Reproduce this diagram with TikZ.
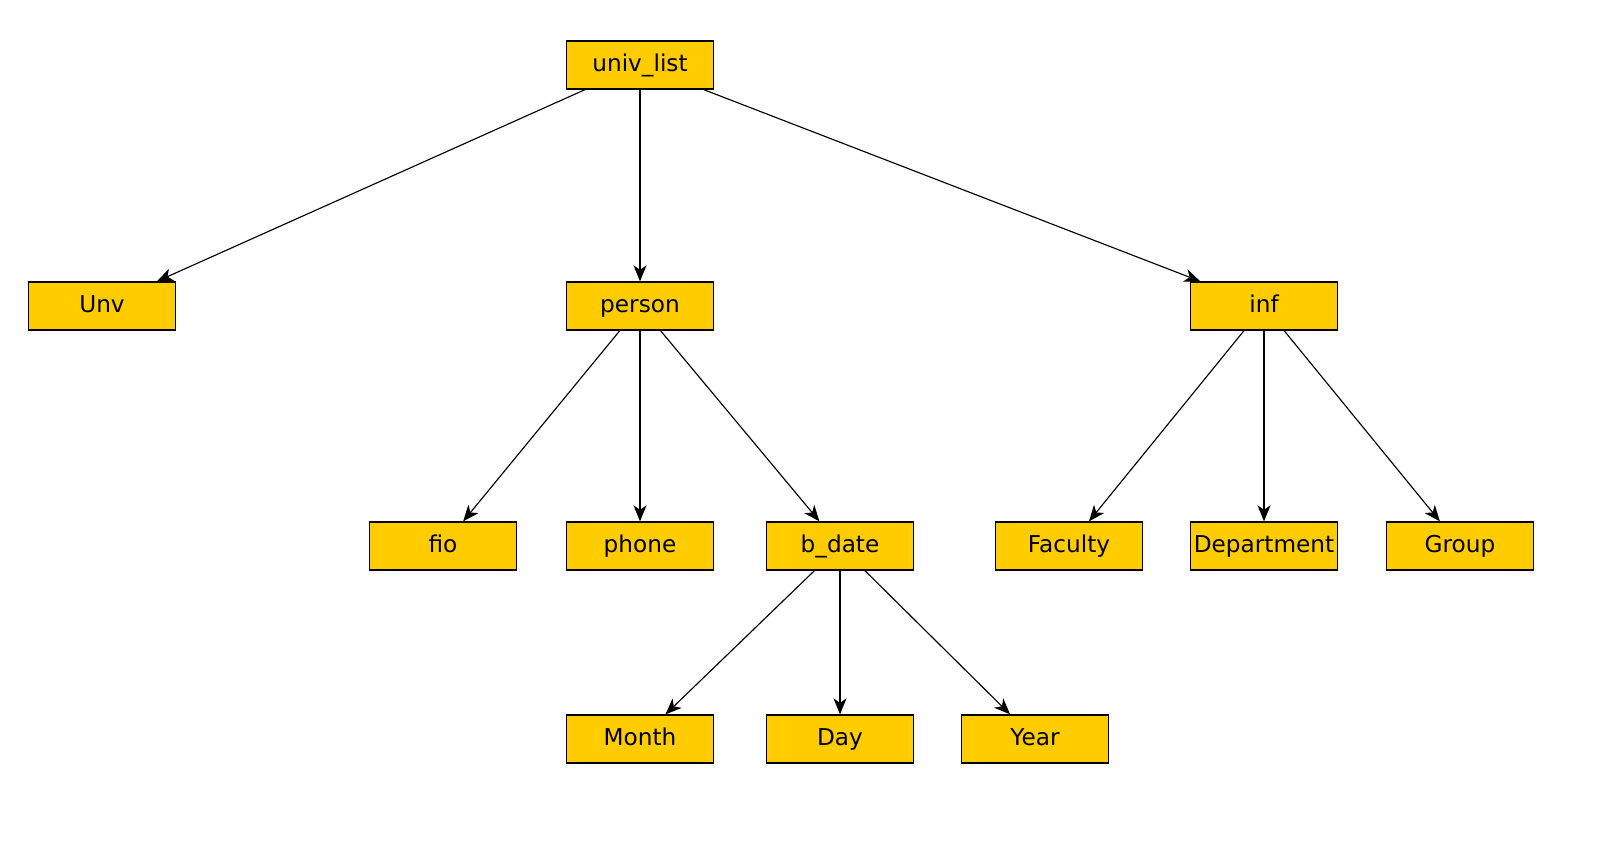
\documentclass[tikz,border=0pt]{standalone}
\usepackage{fontspec}
\setmainfont{DejaVu Sans}
\usepackage{tikz}
\usetikzlibrary{arrows.meta,positioning}
\definecolor{boxyellow}{HTML}{FFCC00}
\tikzset{box/.style={draw, fill=boxyellow, line width=0.75pt, minimum width=2.94cm, minimum height=0.96cm, inner sep=0pt, text height=9.8pt, text depth=2.8pt, font=\fontsize{13.2}{15}\selectfont},
  link/.style={-{Stealth[length=0.32cm,width=0.26cm,inset=0.09cm]}, line width=0.65pt}}

\begin{document}
\begin{tikzpicture}
    \useasboundingbox (0,0) rectangle (32.32,-16.88);
    \node[box] at (12.8,-1.3) (univ) {univ\_list};
    \node[box] at (2.04,-6.12) (unv) {Unv};
    \node[box] at (12.8,-6.12) (person) {person};
    \node[box] at (25.28,-6.12) (inf) {inf};

    \node[box] at (8.86,-10.92) (fio) {fio};
    \node[box] at (12.8,-10.92) (phone) {phone};
    \node[box] at (16.8,-10.92) (bdate) {b\_date};
    \node[box] at (21.38,-10.92) (faculty) {Faculty};
    \node[box] at (25.28,-10.92) (dept) {Department};
    \node[box] at (29.2,-10.92) (group) {Group};

    \node[box] at (12.8,-14.78) (month) {Month};
    \node[box] at (16.8,-14.78) (day) {Day};
    \node[box] at (20.7,-14.78) (year) {Year};

    \draw[link] (univ) -- (unv);
    \draw[link] (univ) -- (person);
    \draw[link] (univ) -- (inf);
    \draw[link] (person) -- (fio);
    \draw[link] (person) -- (phone);
    \draw[link] (person) -- (bdate);
    \draw[link] (inf) -- (faculty);
    \draw[link] (inf) -- (dept);
    \draw[link] (inf) -- (group);
    \draw[link] (bdate) -- (month);
    \draw[link] (bdate) -- (day);
    \draw[link] (bdate) -- (year);
\end{tikzpicture}
\end{document}
